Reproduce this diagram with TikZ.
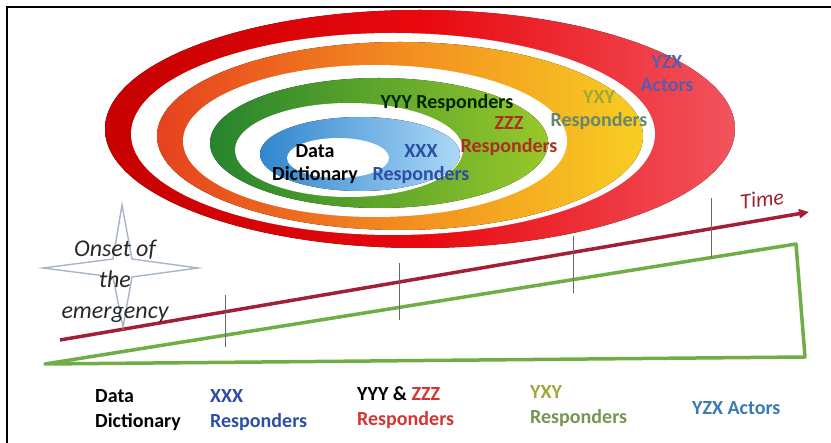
\documentclass[tikz,border=0pt]{standalone}
\usepackage{fontspec}
\setmainfont{Carlito}
\usepackage{tikz}
\usetikzlibrary{positioning,arrows.meta}
\definecolor{redleft}{RGB}{198,0,0}
\definecolor{redmid}{RGB}{232,8,14}
\definecolor{redright}{RGB}{242,84,94}
\definecolor{orleft}{RGB}{230,66,30}
\definecolor{ormid}{RGB}{242,140,32}
\definecolor{orright}{RGB}{248,206,34}
\definecolor{grleft}{RGB}{38,132,44}
\definecolor{grright}{RGB}{152,200,42}
\definecolor{blleft}{RGB}{48,134,206}
\definecolor{blright}{RGB}{172,216,246}
\definecolor{timered}{RGB}{163,31,52}
\definecolor{rampgreen}{RGB}{112,173,71}
\definecolor{tickgray}{RGB}{105,105,110}
\definecolor{starblue}{RGB}{165,182,202}
\definecolor{onsetgray}{RGB}{40,40,40}
\definecolor{xxxblue}{RGB}{44,78,166}
\definecolor{zzzred}{RGB}{214,52,52}
\definecolor{zzzdark}{RGB}{170,48,36}
\definecolor{yxyolive}{RGB}{160,168,56}
\definecolor{yxygreen}{RGB}{118,150,80}
\definecolor{yxygray}{RGB}{100,135,110}
\definecolor{yzxslate}{RGB}{88,92,172}
\definecolor{yzxblue}{RGB}{58,122,181}

\begin{document}
\begin{tikzpicture}[x=1pt, y=-1pt,
  ring/.style n args={3}{left color=#1, right color=#3, middle color=#2},
  hole/.style={fill=white},
  lbl/.style={text=#1, font={\bfseries\fontsize{20}{23}\selectfont},
    inner sep=0pt, align=center},
  pie/.style={text=#1, font={\bfseries\fontsize{20}{25}\selectfont},
    inner sep=0pt, align=left, anchor=west},
  timeline/.style={draw=timered, line width=3.5pt,
    -{Triangle[length=10pt,width=9pt]}},
  rampa/.style={draw=rampgreen, line width=3.5pt, line join=round},
  tickline/.style={draw=tickgray, line width=1pt},
  starline/.style={draw=starblue, line width=1.4pt},
]
  \useasboundingbox (0,0) rectangle (831,443);
  \draw[line width=2pt] (7,443) -- (7,7) -- (831,7);
  % ---- Anillos (de fuera hacia dentro) ----
  \fill[ring={redleft}{redmid}{redright}] (420,129) ellipse [x radius=315, y radius=119];
  \fill[hole] (393,134) ellipse [x radius=262, y radius=101];
  \fill[ring={orleft}{ormid}{orright}] (400,136) ellipse [x radius=243, y radius=94];
  \fill[hole] (375,141) ellipse [x radius=192, y radius=76];
  \fill[ring={grleft}{grleft!50!grright}{grright}] (379,143) ellipse [x radius=169, y radius=65];
  \fill[hole] (349,150) ellipse [x radius=114, y radius=47];
  \fill[ring={blleft}{blleft!50!blright}{blright}] (360,154) ellipse [x radius=100, y radius=37];
  \fill[hole] (338,158) ellipse [x radius=51, y radius=20];
  % Etiquetas de los anillos
  \node[lbl=black] (dd) at (315,164) {Data\\Dictionary};
  \node[lbl=xxxblue] (xxx) at (421,164) {XXX\\Responders};
  \node[lbl={black!85!green}] (yyy) at (447,103) {YYY Responders};
  \node[lbl=zzzdark] (zzz) at (509,136) {ZZZ\\Responders};
  \node[lbl=yxyolive] (yxy) at (599,110) {YXY\\\textcolor{yxygray}{Responders}};
  \node[lbl=yzxslate] (yzx) at (667,74) {YZX\\Actors};
  % ---- Eje del tiempo y rampa ----
  \coordinate (t0) at (60,340);
  \coordinate (t1) at (809,212);
  \coordinate (g0) at (45,364);
  \coordinate (g1) at (796,244);
  \coordinate (g2) at (805,357);
  \draw[rampa] (g0) -- (g1) -- (g2) -- cycle;
  \draw[timeline] (t0) -- (t1);
  \draw[tickline] (225,295) -- (225,347);
  \draw[tickline] (399,263) -- (399,320);
  \draw[tickline] (573,236) -- (573,293);
  \draw[tickline] (711,198) -- (711,258);
  \node[text=timered, font={\itshape\fontsize{22}{26}\selectfont}, rotate=7,
    inner sep=0pt] (time) at (762,199) {Time};
  % ---- Estrella del inicio ----
  \draw[starline] (122,205) -- (132,259) -- (198,268) -- (132,277)
    -- (123,327) -- (113,277) -- (43,268) -- (113,259) -- cycle;
  \node[text=onsetgray, font={\itshape\fontsize{24}{31}\selectfont},
    align=center, inner sep=0pt] (onset) at (115,281) {Onset of\\the\\emergency};
  % ---- Etiquetas inferiores ----
  \node[pie=black] (pdd) at (95,410) {Data\\Dictionary};
  \node[pie=xxxblue] (pxxx) at (210,410) {XXX\\Responders};
  \node[pie=black] (pyyy) at (357,408) {YYY \& \textcolor{zzzred}{ZZZ}\\\textcolor{zzzred}{Responders}};
  \node[pie=yxyolive] (pyxy) at (530,406) {YXY\\\textcolor{yxygreen}{Responders}};
  \node[pie=yzxblue] (pyzx) at (692,408) {YZX Actors};
\end{tikzpicture}
\end{document}
